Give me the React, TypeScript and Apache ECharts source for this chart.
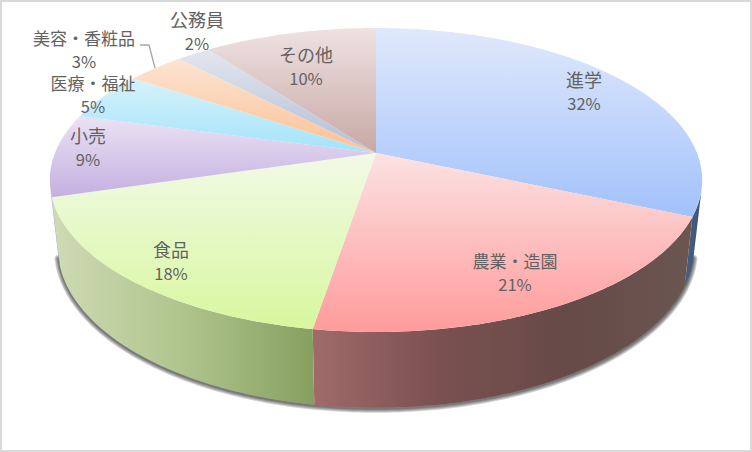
import React, { useEffect, useRef } from "react";
import * as echarts from "echarts";

const categories = ["進学", "農業・造園", "食品", "小売", "医療・福祉", "美容・香粧品", "公務員", "その他"];
const values = [31.6, 21.0, 17.8, 8.8, 5.2, 3.4, 2.0, 10.2];

const topColors = [
  ["#e0e9fb", "#a2c2fb"],
  ["#fce2e2", "#ff9b9b"],
  ["#f1fae6", "#d8f79f"],
  ["#ebe2f4", "#c4b0e0"],
  ["#d6f2fb", "#a3e3fa"],
  ["#fce4d3", "#fcc194"],
  ["#e2e6ee", "#b2bed6"],
  ["#eee2e1", "#c8a8a5"],
];
const wallColors = [
  ["#48607f", "#3d5578"],
  ["#a06a6a", "#7a5150", "#664a48", "#6b5650"],
  ["#cfdbb4", "#afc48d", "#86a060"],
  ["#a896c8", "#a896c8"],
  ["#7fb0c4", "#7fb0c4"],
  ["#c49a78", "#c49a78"],
  ["#8c96a8", "#8c96a8"],
  ["#9c8280", "#9c8280"],
];
const labelCenters = [
  [584, 79], [515, 260], [171, 249], [88, 135], [93, 82], [84, 37], [197, 19], [306, 54],
];

const CX = 376;
const TOP = { cy: 153, a: 321, b: 147.2 };
const BOTTOM = { cy: 219.7, a: 313, b: 154.7 };
const K = 0.1776;
const FONT = '"Noto Sans CJK JP", "Noto Sans", sans-serif';
const TEXT = "#626262";

function rim(r: typeof TOP, deg: number): number[] {
  const t = (deg * Math.PI) / 180;
  const u = Math.sin(t);
  const v = -Math.cos(t);
  const d = 1 - K * v;
  return [CX + (r.a * u) / d, r.cy + (r.b * v) / d];
}

function arcPoints(r: typeof TOP, from: number, to: number): number[][] {
  const n = Math.max(2, Math.ceil(Math.abs(to - from)));
  const pts: number[][] = [];
  for (let i = 0; i <= n; i++) pts.push(rim(r, from + ((to - from) * i) / n));
  return pts;
}

// common tangent of the top and bottom rims on the right: the wall's outer edge
function tangentAngles(): number[] {
  let aTop = 100;
  let aBot = 110;
  for (let it = 0; it < 6; it++) {
    const pb = rim(BOTTOM, aBot);
    let best = -Infinity;
    for (let a = 60; a < aBot + 20; a += 0.1) {
      const q = rim(TOP, a);
      if (q[1] >= pb[1]) continue;
      const s = (q[0] - pb[0]) / (pb[1] - q[1]);
      if (s > best) {
        best = s;
        aTop = a;
      }
    }
    const qt = rim(TOP, aTop);
    best = -Infinity;
    for (let a = 90; a < 170; a += 0.1) {
      const q = rim(BOTTOM, a);
      if (q[1] <= qt[1]) continue;
      const s = (q[0] - qt[0]) / (q[1] - qt[1]);
      if (s > best) {
        best = s;
        aBot = a;
      }
    }
  }
  return [aTop, aBot];
}

const total = values.reduce((s, v) => s + v, 0);
function sliceAngles(i: number): number[] {
  let c = 0;
  for (let k = 0; k < i; k++) c += values[k];
  return [(c / total) * 360, ((c + values[i]) / total) * 360];
}

function grad(colors: string[], horizontal: boolean) {
  return {
    type: "linear",
    x: 0,
    y: 0,
    x2: horizontal ? 1 : 0,
    y2: horizontal ? 0 : 1,
    colorStops: colors.map((color, i) => ({ offset: i / (colors.length - 1), color })),
  };
}

export default function App() {
  const ref = useRef<HTMLDivElement>(null);
  useEffect(() => {
    const chart = echarts.init(ref.current!, undefined, { renderer: "svg" });
    const [aTop, aBot] = tangentAngles();
    const shadowWidths = [8, 6, 4, 2];
    chart.setOption({
      animation: false,
      backgroundColor: "#ffffff",
      graphic: [
        {
          type: "rect",
          silent: true,
          z: 100,
          shape: { x: 1, y: 1, width: 750, height: 450 },
          style: { fill: "none", stroke: "#d9d9d9", lineWidth: 2 },
        },
        {
          type: "polyline",
          silent: true,
          z: 100,
          shape: { points: [[140, 45], [149, 45], [155, 68]] },
          style: { fill: "none", stroke: "#a6a6a6", lineWidth: 1.3 },
        },
      ],
      series: [
        {
          type: "custom",
          coordinateSystem: "none",
          data: [1],
          z: 1,
          silent: true,
          renderItem: () => {
            const pts = arcPoints(BOTTOM, aBot, 360 - aBot).map(([x, y]) => [x, y + 1]);
            return {
              type: "group",
              children: shadowWidths.map((w) => ({
                type: "polyline",
                shape: { points: pts },
                style: { fill: "none", stroke: "rgba(0,0,0,0.17)", lineWidth: w, lineCap: "round" },
              })),
            };
          },
        },
        {
          type: "custom",
          coordinateSystem: "none",
          data: values,
          z: 2,
          silent: true,
          renderItem: (p: any) => {
            const [a0, a1] = sliceAngles(p.dataIndex);
            const tFrom = Math.max(a0, aTop);
            const tTo = Math.min(a1, 360 - aTop);
            const bFrom = Math.max(a0, aBot);
            const bTo = Math.min(a1, 360 - aBot);
            if (tFrom >= tTo || a1 <= aTop || a0 >= 360 - aTop) return { type: "group", children: [] };
            const lower =
              bFrom < bTo
                ? arcPoints(BOTTOM, bTo, bFrom)
                : [rim(BOTTOM, a1 <= aBot ? aBot : 360 - aBot)];
            const points = arcPoints(TOP, tFrom, tTo).concat(lower);
            return {
              type: "polygon",
              shape: { points },
              style: { fill: grad(wallColors[p.dataIndex], true) },
            };
          },
        },
        {
          type: "custom",
          coordinateSystem: "none",
          data: values,
          z: 3,
          silent: true,
          renderItem: (p: any, api: any) => {
            const i = p.dataIndex;
            const [a0, a1] = sliceAngles(i);
            const points = [[CX, TOP.cy]].concat(arcPoints(TOP, a0, a1));
            const [lx, ly] = labelCenters[i];
            const nameSize = categories[i].includes("・") ? 17 : 18;
            return {
              type: "group",
              children: [
                {
                  type: "polygon",
                  shape: { points },
                  style: { fill: grad(topColors[i], false) },
                },
                {
                  type: "text",
                  z2: 10,
                  style: {
                    x: lx,
                    y: ly,
                    text: categories[i],
                    fill: TEXT,
                    font: `${nameSize}px ${FONT}`,
                    align: "center",
                    verticalAlign: "middle",
                  },
                },
                {
                  type: "text",
                  z2: 10,
                  style: {
                    x: lx,
                    y: ly + 24,
                    text: `${Math.round(api.value(0))}%`,
                    fill: TEXT,
                    font: `16.5px ${FONT}`,
                    align: "center",
                    verticalAlign: "middle",
                  },
                },
              ],
            };
          },
        },
      ],
    });
    return () => chart.dispose();
  }, []);
  return <div ref={ref} style={{ position: "fixed", left: 0, top: 0, width: 752, height: 452 }} />;
}
